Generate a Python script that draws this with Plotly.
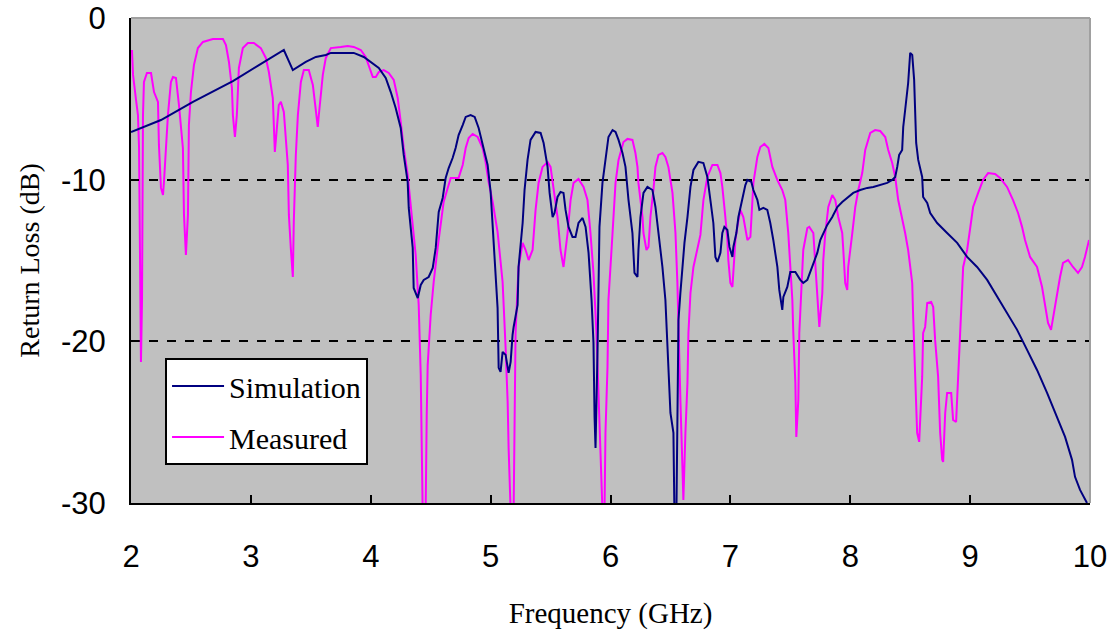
import plotly.graph_objects as go

# ---- data (GHz, dB) ----
sim_freq = [2.0, 2.25, 2.517, 2.85, 3.067, 3.275, 3.35, 3.458, 3.542, 3.625, 3.667, 3.858, 3.942, 4.0,
            4.067, 4.125, 4.167, 4.208, 4.25, 4.275, 4.308, 4.317, 4.35, 4.358, 4.392, 4.417, 4.442,
            4.483, 4.517, 4.542, 4.567, 4.6, 4.625, 4.65, 4.683, 4.708, 4.733, 4.767, 4.792, 4.833,
            4.867, 4.9, 4.942, 4.975, 5.0, 5.025, 5.042, 5.058, 5.067, 5.083, 5.1, 5.125, 5.15, 5.167,
            5.183, 5.192, 5.225, 5.233, 5.267, 5.283, 5.308, 5.333, 5.375, 5.417, 5.442, 5.475, 5.492,
            5.517, 5.533, 5.558, 5.583, 5.608, 5.625, 5.65, 5.683, 5.708, 5.733, 5.767, 5.792, 5.817,
            5.842, 5.858, 5.867, 5.875, 5.892, 5.9, 5.908, 5.933, 5.958, 5.983, 6.017, 6.042, 6.067,
            6.1, 6.125, 6.15, 6.183, 6.2, 6.225, 6.233, 6.25, 6.275, 6.308, 6.35, 6.375, 6.4, 6.433,
            6.458, 6.475, 6.5, 6.525, 6.533, 6.55, 6.558, 6.567, 6.583, 6.6, 6.617, 6.642, 6.667,
            6.692, 6.733, 6.775, 6.808, 6.833, 6.858, 6.875, 6.892, 6.917, 6.933, 6.95, 6.975, 6.992,
            7.017, 7.025, 7.05, 7.067, 7.1, 7.125, 7.142, 7.175, 7.192, 7.225, 7.242, 7.275, 7.308,
            7.333, 7.358, 7.392, 7.408, 7.433, 7.442, 7.475, 7.5, 7.542, 7.583, 7.608, 7.642, 7.667,
            7.692, 7.725, 7.75, 7.775, 7.808, 7.85, 7.892, 7.933, 7.975, 8.025, 8.083, 8.142, 8.192,
            8.25, 8.308, 8.35, 8.375, 8.392, 8.408, 8.433, 8.442, 8.458, 8.483, 8.5, 8.517, 8.533,
            8.542, 8.55, 8.567, 8.6, 8.608, 8.642, 8.667, 8.725, 8.808, 8.892, 8.975, 9.058, 9.142,
            9.225, 9.308, 9.392, 9.475, 9.558, 9.642, 9.725, 9.792, 9.85, 9.875, 9.917, 9.975]
sim_db = [-7.05, -6.31, -5.19, -3.90, -2.91, -1.98, -3.22, -2.72, -2.41, -2.29, -2.16, -2.16, -2.41, -2.72,
          -3.09, -3.71, -4.58, -5.57, -6.80, -8.47, -10.14, -11.75, -14.22, -16.70, -17.32, -16.51, -16.20,
          -16.02, -15.46, -14.22, -12.0, -11.13, -9.89, -9.28, -8.66, -8.04, -7.24, -6.62, -6.12, -6.0,
          -6.12, -6.80, -8.04, -9.09, -10.76, -13.85, -16.33, -17.93, -21.64, -21.89, -20.65, -20.84, -21.95, -21.27,
          -19.60, -19.11, -17.75, -15.40, -12.68, -10.64, -8.78, -7.54, -7.05, -7.11, -7.73, -9.21, -10.82,
          -12.31, -12.06, -11.07, -10.76, -10.82, -11.87, -12.92, -13.54, -13.54, -12.68, -12.37, -12.92, -14.53,
          -17.44, -20.10, -24.67, -26.59, -20.53, -17.44, -12.92, -10.20, -8.60, -7.36, -6.93, -7.05, -7.54,
          -8.35, -9.21, -11.25, -13.30, -15.77, -16.02, -14.35, -12.31, -10.82, -10.45, -10.64, -11.69, -13.30, -15.40,
          -17.44, -20.53, -24.43, -25.66, -30.5, -30.5, -25.66, -18.68, -17.01, -15.40, -13.91, -12.31, -10.45,
          -9.40, -8.90, -8.97, -9.83, -11.25, -12.68, -14.78, -15.09, -14.53, -13.30, -12.92, -13.11, -14.16,
          -14.78, -14.16, -13.30, -12.31, -11.25, -10.33, -10.02, -10.14, -10.64, -11.25, -11.87, -11.75, -11.87,
          -12.68, -13.73, -15.40, -16.82, -18.06, -17.25, -16.63, -15.71, -15.71, -16.20, -16.39, -16.20, -15.71,
          -15.15, -14.53, -13.73, -13.30, -12.80, -12.31, -11.69, -11.38, -11.13, -10.82, -10.64, -10.51, -10.45,
          -10.33, -10.20, -10.02, -9.83, -9.21, -8.47, -8.16, -6.74, -5.69, -4.02, -2.16, -2.29, -3.83,
          -5.69, -7.73, -8.78, -9.83, -11.07, -11.44, -12.06, -12.68, -13.30, -13.91, -14.78, -15.40, -16.20,
          -17.25, -18.24, -19.29, -20.53, -21.77, -23.19, -24.67, -25.91, -27.33, -28.38, -29.19, -30.0]

meas_freq = [2.008, 2.017, 2.042, 2.058, 2.067, 2.075, 2.083, 2.092, 2.1, 2.108, 2.133, 2.167, 2.192, 2.225,
             2.233, 2.25, 2.267, 2.275, 2.292, 2.308, 2.333, 2.35, 2.375, 2.4, 2.433, 2.442, 2.458, 2.475,
             2.483, 2.5, 2.525, 2.558, 2.6, 2.683, 2.767, 2.792, 2.817, 2.842, 2.85, 2.867, 2.883, 2.9,
             2.933, 2.975, 3.025, 3.083, 3.125, 3.15, 3.183, 3.192, 3.2, 3.217, 3.233, 3.25, 3.275, 3.308,
             3.317, 3.333, 3.35, 3.358, 3.375, 3.392, 3.417, 3.442, 3.483, 3.517, 3.542, 3.558, 3.567, 3.6,
             3.625, 3.667, 3.75, 3.808, 3.858, 3.917, 3.958, 3.983, 4.017, 4.042, 4.067, 4.108, 4.15, 4.192,
             4.225, 4.25, 4.275, 4.308, 4.333, 4.375, 4.4, 4.417, 4.433, 4.458, 4.467, 4.475, 4.5, 4.525,
             4.558, 4.583, 4.608, 4.642, 4.667, 4.733, 4.767, 4.792, 4.817, 4.85, 4.892, 4.933, 4.958, 4.983,
             5.017, 5.058, 5.1, 5.125, 5.142, 5.15, 5.167, 5.192, 5.2, 5.208, 5.225, 5.233, 5.267, 5.292,
             5.317, 5.35, 5.375, 5.4, 5.433, 5.475, 5.5, 5.525, 5.558, 5.583, 5.608, 5.642, 5.667, 5.692,
             5.733, 5.775, 5.808, 5.833, 5.858, 5.883, 5.9, 5.917, 5.933, 5.95, 5.958, 5.975, 5.983, 6.017,
             6.042, 6.067, 6.108, 6.142, 6.183, 6.208, 6.225, 6.233, 6.25, 6.267, 6.275, 6.3, 6.317, 6.333,
             6.358, 6.375, 6.4, 6.433, 6.458, 6.483, 6.517, 6.542, 6.558, 6.567, 6.583, 6.6, 6.608, 6.625,
             6.642, 6.65, 6.667, 6.692, 6.725, 6.75, 6.775, 6.808, 6.85, 6.892, 6.917, 6.933, 6.958, 6.975,
             6.983, 7.0, 7.017, 7.025, 7.042, 7.058, 7.083, 7.108, 7.125, 7.142, 7.167, 7.183, 7.192, 7.225,
             7.25, 7.283, 7.317, 7.35, 7.392, 7.433, 7.458, 7.483, 7.5, 7.517, 7.525, 7.542, 7.55, 7.567,
             7.575, 7.592, 7.608, 7.642, 7.658, 7.692, 7.708, 7.725, 7.742, 7.767, 7.775, 7.792, 7.817, 7.85,
             7.875, 7.9, 7.933, 7.942, 7.958, 7.975, 7.983, 8.017, 8.042, 8.067, 8.1, 8.125, 8.167, 8.208,
             8.25, 8.292, 8.317, 8.35, 8.375, 8.4, 8.433, 8.458, 8.483, 8.517, 8.525, 8.542, 8.558, 8.575,
             8.6, 8.608, 8.625, 8.642, 8.675, 8.692, 8.708, 8.733, 8.75, 8.767, 8.775, 8.792, 8.808, 8.842,
             8.858, 8.883, 8.9, 8.917, 8.933, 8.942, 8.975, 9.0, 9.025, 9.067, 9.108, 9.15, 9.208, 9.25,
             9.308, 9.358, 9.4, 9.433, 9.458, 9.5, 9.558, 9.6, 9.625, 9.65, 9.675, 9.692, 9.725, 9.75,
             9.775, 9.817, 9.858, 9.9, 9.933, 9.958, 9.992]
meas_db = [-1.98, -3.52, -5.07, -6.00, -7.98, -17.44, -21.27, -17.44, -6.00, -3.96, -3.40, -3.40, -4.58, -5.19,
           -7.85, -10.51, -10.95, -10.14, -8.04, -6.00, -3.96, -3.65, -3.71, -5.38, -8.04, -12.18, -14.66, -12.18,
           -6.62, -4.58, -2.91, -1.86, -1.48, -1.30, -1.30, -1.67, -2.72, -4.33, -6.00, -7.36, -6.00, -3.09,
           -1.86, -1.55, -1.55, -1.86, -2.47, -3.34, -4.95, -7.05, -8.29, -6.80, -5.38, -5.19, -5.81, -9.09,
           -12.18, -14.22, -16.02, -12.62, -8.47, -6.00, -3.96, -3.22, -3.22, -4.14, -6.00, -6.74, -6.00, -3.52,
           -2.47, -1.86, -1.79, -1.73, -1.79, -1.98, -2.41, -2.91, -3.65, -3.65, -3.34, -3.22, -3.40, -3.83,
           -4.95, -6.43, -8.04, -9.71, -11.75, -14.66, -17.75, -22.08, -30.5, -30.5, -24.55, -21.46, -18.37, -16.33,
           -14.22, -12.62, -11.38, -10.51, -9.89, -9.89, -9.09, -8.04, -7.42, -7.17, -7.36, -8.04, -8.91, -10.14,
           -11.38, -13.23, -16.33, -20.41, -23.75, -26.59, -30.5, -30.5, -23.62, -19.48, -16.64, -15.40, -13.91, -14.35,
           -14.97, -14.35, -11.87, -10.20, -9.21, -8.91, -9.21, -10.64, -12.31, -14.35, -15.40, -13.30, -11.26, -10.20,
           -9.96, -10.45, -11.26, -13.30, -15.77, -19.48, -23.62, -26.72, -30.5, -30.5, -25.66, -21.58, -17.44, -13.30,
           -10.20, -8.78, -7.67, -7.48, -7.54, -8.35, -9.21, -10.20, -11.26, -12.31, -13.30, -14.35, -14.16, -12.31,
           -10.64, -9.21, -8.47, -8.35, -8.60, -9.21, -10.82, -13.30, -16.39, -19.48, -23.62, -27.77, -29.81, -25.66,
           -22.57, -19.48, -17.01, -15.40, -14.35, -13.42, -11.26, -9.83, -9.09, -9.09, -9.59, -10.45, -12.31, -13.73,
           -14.97, -16.39, -16.64, -15.40, -13.73, -12.92, -11.87, -12.31, -12.92, -13.73, -13.54, -11.26, -10.20, -8.60,
           -7.98, -7.79, -8.04, -9.21, -10.02, -10.64, -11.26, -13.30, -15.40, -17.44, -19.48, -22.57, -25.91, -23.62,
           -19.48, -17.01, -14.35, -12.99, -12.92, -13.30, -15.40, -17.44, -19.11, -17.01, -14.97, -13.30, -11.69, -10.95,
           -11.26, -12.31, -13.30, -14.35, -16.39, -16.82, -15.40, -13.30, -11.69, -10.64, -9.59, -8.16, -7.11, -6.93,
           -6.99, -7.36, -8.16, -8.97, -9.83, -11.26, -12.31, -13.30, -14.35, -16.39, -18.49, -21.95, -25.66, -26.22,
           -22.20, -19.48, -19.11, -17.63, -17.56, -17.87, -19.91, -22.20, -25.66, -27.33, -27.46, -24.43, -23.19, -23.19,
           -24.86, -24.98, -22.20, -19.48, -17.44, -15.40, -14.35, -12.92, -11.69, -10.82, -10.02, -9.59, -9.65, -9.89,
           -10.45, -11.26, -12.06, -12.92, -13.73, -14.78, -15.40, -16.64, -17.87, -18.86, -19.29, -18.49, -17.01, -16.02,
           -15.15, -14.97, -15.40, -15.77, -15.40, -14.78, -13.73]

x_ticks = [2, 3, 4, 5, 6, 7, 8, 9, 10]
x_tick_labels = ["2", "3", "4", "5", "6", "7", "8", "9", "10"]
y_ticks = [-30, -20, -10, 0]
y_tick_labels = ["-30", "-20", "-10", "0"]

SANS = "Liberation Sans, Arial, sans-serif"
SERIF = "Liberation Serif, Times New Roman, serif"

fig = go.Figure()
fig.add_trace(go.Scatter(x=meas_freq, y=meas_db, mode="lines", name="Measured",
                         line=dict(color="#FF00FF", width=2), legendrank=2, legendgroup="m"))
fig.add_trace(go.Scatter(x=sim_freq, y=sim_db, mode="lines", name="Simulation",
                         line=dict(color="#000080", width=2), legendrank=1, legendgroup="s"))

fig.update_layout(
    width=1113, height=637,
    margin=dict(l=131, r=23, t=18, b=134, autoexpand=False),
    paper_bgcolor="white", plot_bgcolor="#C0C0C0",
    showlegend=True,
    legend=dict(x=0.0355, y=0.299, xanchor="left", yanchor="top",
                bgcolor="white", bordercolor="black", borderwidth=2,
                font=dict(family=SERIF, size=30, color="black"),
                itemwidth=52, tracegroupgap=9, traceorder="grouped"),
    xaxis=dict(range=[2, 10], tickvals=x_ticks, ticktext=x_tick_labels, automargin=False,
               ticks="inside", ticklen=8, tickwidth=2, tickcolor="black",
               showline=True, linecolor="black", linewidth=2, showgrid=False, zeroline=False,
               tickfont=dict(family=SANS, size=31, color="black"), ticklabelstandoff=25,
               ticklabeloverflow="allow",
               title=dict(text="Frequency (GHz)", font=dict(family=SERIF, size=29, color="black"),
                          standoff=29)),
    yaxis=dict(range=[-30, 0], tickvals=y_ticks, ticktext=y_tick_labels, automargin=False,
               ticks="inside", ticklen=8, tickwidth=2, tickcolor="black",
               showline=True, linecolor="black", linewidth=2,
               showgrid=True, gridcolor="black", gridwidth=1.5, griddash="dash", zeroline=False,
               tickfont=dict(family=SANS, size=31, color="black"), ticklabelstandoff=17,
               ticklabeloverflow="allow",
               title=dict(text="Return Loss (dB)", font=dict(family=SERIF, size=28, color="black"),
                          standoff=13)),
    shapes=[
        dict(type="line", xref="paper", yref="paper", x0=0, x1=1, y0=1, y1=1,
             line=dict(color="#A0A0A0", width=2), layer="above"),
        dict(type="line", xref="paper", yref="paper", x0=1, x1=1, y0=0, y1=1,
             line=dict(color="#A0A0A0", width=2), layer="above"),
    ],
)

fig.write_html("out.html")
